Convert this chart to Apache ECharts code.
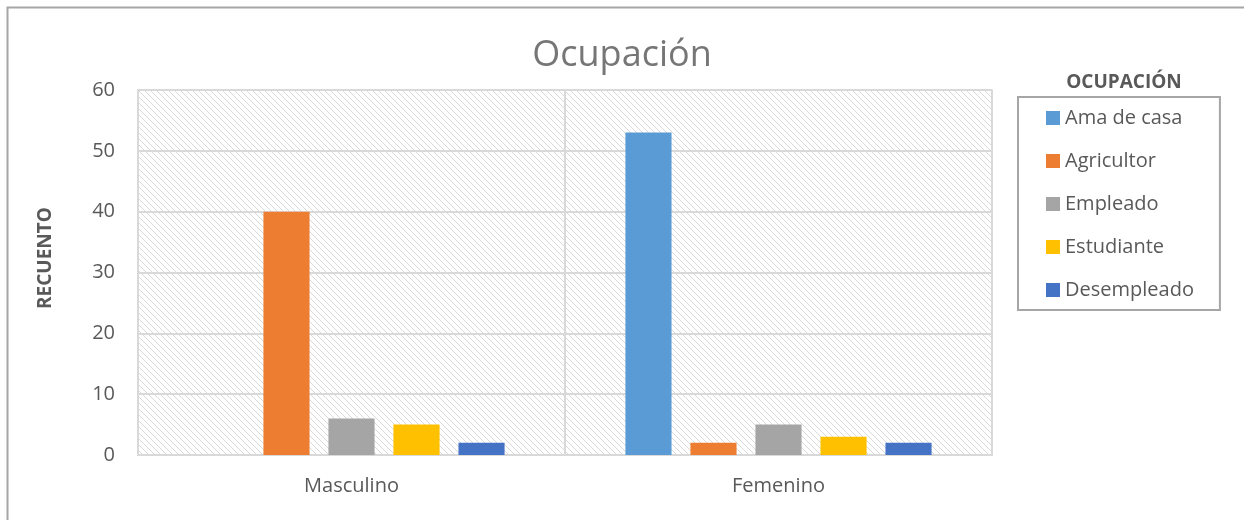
<!DOCTYPE html>
<html>
<head>
<meta charset="utf-8">
<script src="https://cdn.jsdelivr.net/npm/echarts@6/dist/echarts.min.js"></script>
<style>
  html, body { margin: 0; padding: 0; background: #fff; }
  #chart { width: 1244px; height: 520px; }
</style>
</head>
<body>
<div id="chart"></div>
<script>
const categories = ['Masculino', 'Femenino']
const seriesNames = ['Ama de casa', 'Agricultor', 'Empleado', 'Estudiante', 'Desempleado']
const seriesColors = ['#5B9BD5', '#ED7D31', '#A5A5A5', '#FFC000', '#4472C4']
const amaDeCasa = [0, 53]
const agricultor = [40, 2]
const empleado = [6, 5]
const estudiante = [5, 3]
const desempleado = [2, 2]
const seriesValues = [amaDeCasa, agricultor, empleado, estudiante, desempleado]

// diagonal hatch like Excel's light pattern fill
const tile = document.createElement('canvas')
tile.width = 6
tile.height = 6
const ctx = tile.getContext('2d')
ctx.fillStyle = '#ffffff'
ctx.fillRect(0, 0, 6, 6)
ctx.fillStyle = '#d9d9d9'
for (let i = 0; i < 6; i++) ctx.fillRect(i, i, 1, 1)

const font = '"Open Sans", Lato, sans-serif'
const chart = echarts.init(document.getElementById('chart'))

chart.setOption({
  animation: false,
  textStyle: { fontFamily: font },
  graphic: [
    {
      type: 'rect', shape: { x: 7.5, y: 7.5, width: 1300, height: 600 },
      style: { fill: 'none', stroke: '#a6a6a6', lineWidth: 2 }, silent: true
    },
    {
      type: 'text', x: 46, y: 258, rotation: Math.PI / 2, silent: true,
      style: {
        text: 'RECUENTO', align: 'center', verticalAlign: 'middle',
        font: 'bold 19px "Open Sans", sans-serif', fill: '#595959'
      }
    }
  ],
  title: [
    {
      text: 'Ocupación', left: 'center', top: 33,
      textStyle: { fontFamily: font, fontSize: 36, fontWeight: 'normal', color: '#767676' }
    },
    {
      text: 'OCUPACIÓN', left: 1119, top: 68, textAlign: 'center',
      textStyle: { fontFamily: font, fontSize: 19, fontWeight: 'bold', color: '#595959' }
    }
  ],
  legend: {
    orient: 'vertical', left: 1018, top: 97,
    padding: [10, 26, 9, 28],
    borderColor: '#a6a6a6', borderWidth: 2,
    icon: 'rect', itemWidth: 14, itemHeight: 14, itemGap: 21,
    textStyle: { fontFamily: font, fontSize: 20, color: '#595959', lineHeight: 22 },
    data: seriesNames
  },
  grid: {
    left: 138, right: 252, top: 90, bottom: 65,
    show: true, backgroundColor: { image: tile, repeat: 'repeat' },
    borderColor: '#d9d9d9', borderWidth: 1.5
  },
  xAxis: {
    type: 'category', data: categories,
    axisLine: { lineStyle: { color: '#d9d9d9', width: 2 } },
    axisTick: { show: false },
    axisLabel: { color: '#595959', fontSize: 20, margin: 21, fontFamily: font },
    splitLine: { show: true, lineStyle: { color: '#d9d9d9', width: 2 } }
  },
  yAxis: {
    type: 'value', min: 0, max: 60, interval: 10,
    axisLine: { show: true, lineStyle: { color: '#d9d9d9', width: 2 } },
    axisTick: { show: false },
    axisLabel: { color: '#595959', fontSize: 20, margin: 23, fontFamily: font },
    splitLine: { lineStyle: { color: '#d9d9d9', width: 2 } }
  },
  series: seriesNames.map((name, i) => ({
    type: 'bar', name,
    data: seriesValues[i],
    itemStyle: { color: seriesColors[i] },
    barGap: '41%', barCategoryGap: '28.3%'
  }))
})
</script>
</body>
</html>
